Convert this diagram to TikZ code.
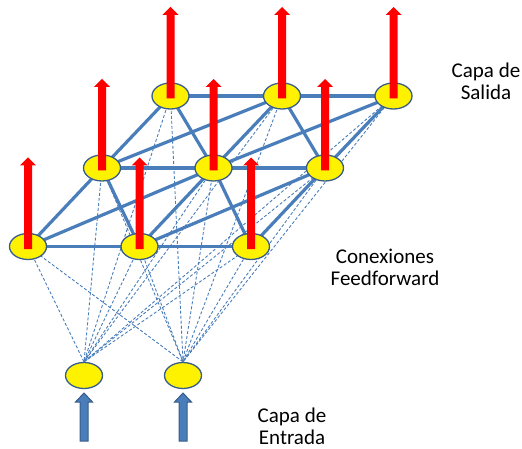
\documentclass[tikz,border=0pt]{standalone}
\usepackage{fontspec}
\setmainfont{Carlito}
\usetikzlibrary{calc,backgrounds,shapes.geometric}
\definecolor{netblue}{RGB}{74,126,187}
\definecolor{rimblue}{RGB}{56,93,138}
% block arrow pointing up: style, base point, total length, half shaft, half head, head length
\newcommand\blockarrow[6]{%
  \path[#1] ($#2+(-#4,0)$) -- ++(0,{-(#3-#6)}) -- ++({-(#5-#4)},0)
    -- ++(#5,-#6) -- ++(#5,#6) -- ++({-(#5-#4)},0) -- ++(0,{#3-#6}) -- cycle;}
\begin{document}
\begin{tikzpicture}[x=1pt,y=-1pt,
  unit/.style={ellipse, draw=rimblue, line width=1.3pt, fill=yellow,
    minimum width=37pt, minimum height=26pt, inner sep=0pt},
  link/.style={draw=netblue, line width=3.2pt},
  feed/.style={draw=netblue, line width=0.9pt, dash pattern=on 3pt off 2pt},
  outarrow/.style={fill=red},
  inarrow/.style={fill=netblue, draw=rimblue, line width=1pt},
  caption/.style={align=center, font=\fontsize{21}{22}\selectfont, inner sep=0pt}]
\useasboundingbox (0,0) rectangle (522,449);

% output layer: back, middle and front rows
\node[unit] (T1) at (170.5,96) {};
\node[unit] (T2) at (282,96) {};
\node[unit] (T3) at (393.5,96) {};
\node[unit] (M1) at (102,168) {};
\node[unit] (M2) at (213.5,168) {};
\node[unit] (M3) at (325,168) {};
\node[unit] (B1) at (28,246.5) {};
\node[unit] (B2) at (139.5,246.5) {};
\node[unit] (B3) at (251,246.5) {};
% input layer
\node[unit] (I1) at (84,375.5) {};
\node[unit] (I2) at (183,375.5) {};

\begin{scope}[on background layer]
  % feedforward connections from the inputs
  \foreach \n in {T1,T2,T3,M1,M2,M3,B1,B2,B3}{
    \draw[feed] (\n.center) -- (I1.north);
    \draw[feed] (\n.center) -- (I2.north);
  }
  % lateral connections inside the output layer
  \foreach \a/\b in {T1/T2,T2/T3,M1/M2,M2/M3,B1/B2,B2/B3,
                     B1/M1,B1/M2,B2/M1,B2/M2,B2/M3,B3/M2,B3/M3,
                     M1/T1,M1/T2,M2/T1,M2/T2,M2/T3,M3/T2,M3/T3}{
    \draw[link] (\a.center) -- (\b.center);
  }
\end{scope}

% outputs
\foreach \n in {T1,T2,T3,M1,M2,M3,B1,B2,B3}{
  \blockarrow{outarrow}{(\n)+(0,2.5)}{91.5}{4}{8}{8}
}

% inputs
\coordinate (I1src) at (84,441);
\coordinate (I2src) at (183,441);
\blockarrow{inarrow}{(I1src)}{48}{4}{8.5}{9}
\blockarrow{inarrow}{(I2src)}{48}{4}{8.5}{9}

% captions
\node[caption] (lout) at (486,81) {Capa de\\Salida};
\node[caption] (lfeed) at (385,267) {Conexiones\\Feedforward};
\node[caption] (lin) at (292,426) {Capa de\\Entrada};
\end{tikzpicture}
\end{document}
